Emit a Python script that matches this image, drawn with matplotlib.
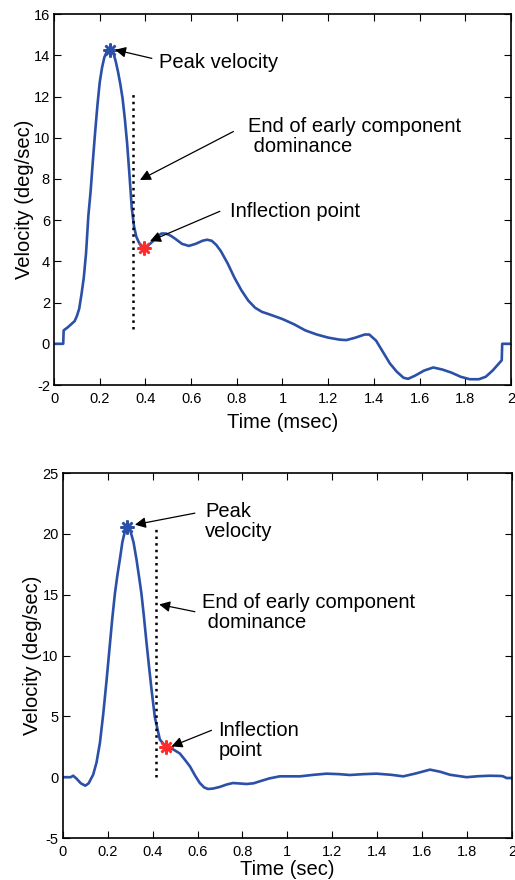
import numpy as np
import matplotlib.pyplot as plt
from matplotlib.ticker import FormatStrFormatter

plt.rcParams['font.family'] = ['Liberation Sans', 'DejaVu Sans']
plt.rcParams['axes.unicode_minus'] = False

# top panel: velocity trace (time in msec)
t_top = [0, 0.04, 0.042, 0.06, 0.075, 0.09, 0.10, 0.11, 0.12, 0.13, 0.14, 0.15, 0.16,
         0.17, 0.18, 0.19, 0.20, 0.21, 0.22, 0.23, 0.245, 0.26, 0.27, 0.28, 0.29, 0.30,
         0.31, 0.32, 0.33, 0.34, 0.35, 0.36, 0.37, 0.38, 0.394, 0.41, 0.43, 0.45, 0.47,
         0.49, 0.51, 0.53, 0.56, 0.59, 0.62, 0.65, 0.67, 0.69, 0.71, 0.73, 0.76, 0.79,
         0.82, 0.85, 0.88, 0.91, 0.95, 1.00, 1.05, 1.10, 1.15, 1.20, 1.25, 1.28, 1.32,
         1.36, 1.38, 1.41, 1.44, 1.47, 1.50, 1.53, 1.55, 1.58, 1.62, 1.66, 1.70, 1.74,
         1.78, 1.82, 1.86, 1.89, 1.92, 1.96, 1.962, 2.0]
v_top = [0, 0, 0.65, 0.8, 0.95, 1.1, 1.35, 1.7, 2.4, 3.2, 4.4, 6.2, 7.4,
         8.9, 10.3, 11.6, 12.7, 13.4, 13.9, 14.15, 14.25, 14.1, 13.7, 13.2, 12.6, 11.9,
         10.9, 9.7, 8.2, 6.6, 5.7, 5.2, 4.95, 4.75, 4.66, 4.75, 4.95, 5.2, 5.35,
         5.35, 5.25, 5.1, 4.85, 4.75, 4.85, 5.0, 5.05, 5.0, 4.8, 4.5, 3.9, 3.2,
         2.6, 2.1, 1.75, 1.55, 1.4, 1.2, 0.95, 0.65, 0.45, 0.3, 0.2, 0.18, 0.3,
         0.45, 0.45, 0.15, -0.4, -0.95, -1.35, -1.65, -1.7, -1.55, -1.3, -1.15, -1.25, -1.4,
         -1.6, -1.72, -1.72, -1.6, -1.3, -0.8, 0.0, 0.0]
peak_top = (0.245, 14.25)
infl_top = (0.394, 4.66)
end_top = (0.345, 0.7, 12.1)

# bottom panel: velocity trace (time in sec)
t_bot = [0, 0.035, 0.046, 0.06, 0.08, 0.10, 0.115, 0.135, 0.15, 0.165, 0.18, 0.195,
         0.21, 0.22, 0.232, 0.243, 0.254, 0.265, 0.275, 0.288, 0.30, 0.315, 0.328, 0.34,
         0.35, 0.36, 0.373, 0.385, 0.395, 0.41, 0.432, 0.459, 0.49, 0.521, 0.545, 0.566,
         0.59, 0.61, 0.63, 0.647, 0.67, 0.699, 0.73, 0.758, 0.79, 0.818, 0.85, 0.877,
         0.92, 0.966, 1.056, 1.12, 1.175, 1.23, 1.278, 1.34, 1.397, 1.46, 1.516, 1.57,
         1.635, 1.68, 1.724, 1.798, 1.85, 1.902, 1.95, 1.961, 1.976, 2.0]
v_bot = [0, 0, 0.12, -0.1, -0.5, -0.7, -0.5, 0.2, 1.2, 2.8, 5.2, 8.0,
         11.0, 13.0, 15.1, 16.6, 17.9, 19.3, 20.1, 20.6, 20.3, 19.3, 17.9, 16.4,
         15.1, 13.4, 11.0, 8.9, 7.2, 4.9, 3.1, 2.48, 2.3, 1.95, 1.4, 0.89,
         0.1, -0.48, -0.85, -0.97, -0.93, -0.8, -0.6, -0.48, -0.52, -0.56, -0.5, -0.34,
         -0.1, 0.07, 0.07, 0.2, 0.29, 0.25, 0.18, 0.25, 0.29, 0.2, 0.07, 0.3,
         0.62, 0.45, 0.2, 0.0, 0.08, 0.12, 0.1, 0.07, -0.07, -0.07]
peak_bot = (0.288, 20.6)
infl_bot = (0.459, 2.48)
end_bot = (0.415, 0.0, 20.6)

blue = '#2b50a8'
red = '#ff2a2a'
star = (8, 2, 0)
arrow = dict(arrowstyle='-|>', color='black', lw=0.9, shrinkA=0, shrinkB=0,
             mutation_scale=16)

fig = plt.figure(figsize=(5.15, 8.8), dpi=100)
ax1 = fig.add_axes([0.105, 0.5625, 0.887, 0.4215])
ax2 = fig.add_axes([0.122, 0.0477, 0.872, 0.4148])


def style(ax, ymin, ymax, ystep, xlabel, xpad, ypad):
    ax.set_xlim(0, 2)
    ax.set_ylim(ymin, ymax)
    ax.set_xticks(np.arange(0, 2.01, 0.2))
    ax.set_yticks(np.arange(ymin, ymax + 0.1, ystep))
    ax.xaxis.set_major_formatter(FormatStrFormatter('%g'))
    ax.yaxis.set_major_formatter(FormatStrFormatter('%g'))
    ax.tick_params(direction='in', top=True, right=True, length=5, width=0.8,
                   labelsize=10.5)
    ax.tick_params(axis='x', pad=5)
    ax.tick_params(axis='y', pad=3)
    for s in ax.spines.values():
        s.set_linewidth(1.2)
    ax.set_xlabel(xlabel, fontsize=14.5, labelpad=xpad)
    ax.set_ylabel('Velocity (deg/sec)', fontsize=14.5, labelpad=ypad)


# top panel
ax1.plot(t_top, v_top, color=blue, lw=1.9)
ax1.plot([end_top[0], end_top[0]], [end_top[1], end_top[2]], color='black', ls=':', lw=1.8)
ax1.plot(*peak_top, marker=star, ms=10, mew=1.8, color=blue, ls='none')
ax1.plot(*infl_top, marker=star, ms=10, mew=1.8, color=red, ls='none')
ax1.annotate('', xy=(0.267, 14.27), xytext=(0.428, 13.85), arrowprops=arrow)
ax1.text(0.46, 13.67, 'Peak velocity', fontsize=14.5, va='center')
ax1.annotate('', xy=(0.376, 7.95), xytext=(0.785, 10.3), arrowprops=arrow)
ax1.text(0.85, 10.05, 'End of early component\n dominance', fontsize=14.5,
         va='center', linespacing=1.05)
ax1.annotate('', xy=(0.42, 4.98), xytext=(0.726, 6.43), arrowprops=arrow)
ax1.text(0.77, 6.43, 'Inflection point', fontsize=14.5, va='center')
style(ax1, -2, 16, 2, 'Time (msec)', 5, 0)

# bottom panel
ax2.plot(t_bot, v_bot, color=blue, lw=1.9)
ax2.plot([end_bot[0], end_bot[0]], [end_bot[1], end_bot[2]], color='black', ls=':', lw=1.8)
ax2.plot(*peak_bot, marker=star, ms=10, mew=1.8, color=blue, ls='none')
ax2.plot(*infl_bot, marker=star, ms=10, mew=1.8, color=red, ls='none')
ax2.annotate('', xy=(0.321, 20.75), xytext=(0.588, 21.7), arrowprops=arrow)
ax2.text(0.633, 21.0, 'Peak\nvelocity', fontsize=14.5, va='center', linespacing=1.05)
ax2.annotate('', xy=(0.429, 14.2), xytext=(0.588, 13.6), arrowprops=arrow)
ax2.text(0.618, 13.55, 'End of early component\n dominance', fontsize=14.5,
         va='center', linespacing=1.05)
ax2.annotate('', xy=(0.484, 2.53), xytext=(0.662, 3.85), arrowprops=arrow)
ax2.text(0.692, 3.02, 'Inflection\npoint', fontsize=14.5, va='center', linespacing=1.05)
style(ax2, -5, 25, 5, 'Time (sec)', 1, 0)

fig.savefig('out.png', dpi=100)
